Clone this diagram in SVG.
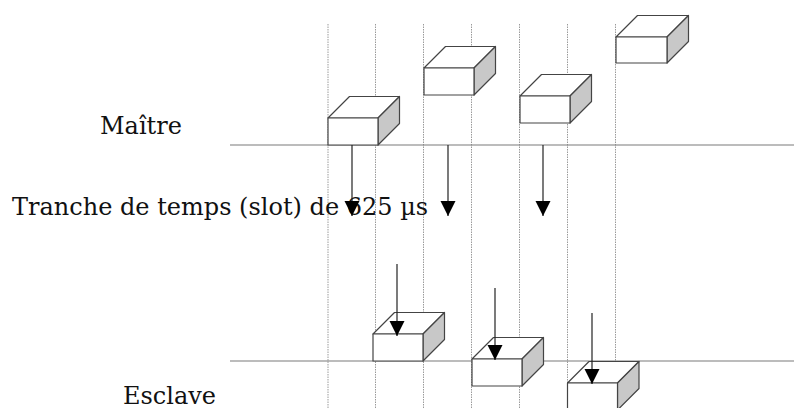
<svg xmlns="http://www.w3.org/2000/svg" width="794" height="408" viewBox="0 0 794 408">
<style>
.grid{stroke:#9a9a9a;stroke-width:1;stroke-dasharray:1.5 1;fill:none}
.axis{stroke:#7a7a7a;stroke-width:1.2;fill:none}
.face{fill:#ffffff;stroke:#444;stroke-width:1.2;stroke-linejoin:round}
.side{fill:#c8c8c8;stroke:#444;stroke-width:1.2;stroke-linejoin:round}
.lbl{font-family:"DejaVu Serif","Liberation Serif",serif;font-size:24px;fill:#111}
.arr{stroke:#222;stroke-width:1.2;fill:none;marker-end:url(#ah)}
</style>
<defs>
<marker id="ah" markerUnits="userSpaceOnUse" markerWidth="16" markerHeight="16" viewBox="0 0 16 16" refX="8" refY="15" orient="0">
<path d="M0.5,0 L15.5,0 L8,15 Z" fill="#000"/>
</marker>
</defs>
<rect width="794" height="408" fill="#fff"/>
<g id="grid">
<line class="grid" x1="328" y1="24" x2="328" y2="408"/>
<line class="grid" x1="375.5" y1="24" x2="375.5" y2="408"/>
<line class="grid" x1="423.5" y1="24" x2="423.5" y2="408"/>
<line class="grid" x1="471.5" y1="24" x2="471.5" y2="408"/>
<line class="grid" x1="519.5" y1="24" x2="519.5" y2="408"/>
<line class="grid" x1="567.5" y1="24" x2="567.5" y2="408"/>
<line class="grid" x1="615.5" y1="24" x2="615.5" y2="408"/>
</g>
<g id="lines">
<line class="axis" x1="230" y1="145" x2="794" y2="145"/>
<line class="axis" x1="230" y1="361" x2="794" y2="361"/>
</g>
<g id="labels">
<text class="lbl" x="100" y="134">Maître</text>
<text class="lbl" x="12" y="214.5">Tranche de temps (slot) de 625 µs</text>
<text class="lbl" x="123" y="404">Esclave</text>
</g>
<g id="master-slot-1">
<polygon class="face" points="328,118 349.5,96.5 399.5,96.5 378,118"/>
<polygon class="side" points="378,118 399.5,96.5 399.5,123.5 378,145"/>
<rect class="face" x="328" y="118" width="50" height="27"/>
</g>
<g id="master-slot-2">
<polygon class="face" points="424,68 445.5,46.5 495.5,46.5 474,68"/>
<polygon class="side" points="474,68 495.5,46.5 495.5,73.5 474,95"/>
<rect class="face" x="424" y="68" width="50" height="27"/>
</g>
<g id="master-slot-3">
<polygon class="face" points="520,96 541.5,74.5 591.5,74.5 570,96"/>
<polygon class="side" points="570,96 591.5,74.5 591.5,101.5 570,123"/>
<rect class="face" x="520" y="96" width="50" height="27"/>
</g>
<g id="master-slot-4">
<polygon class="face" points="616,37 637.5,15.5 688.5,15.5 667,37"/>
<polygon class="side" points="667,37 688.5,15.5 688.5,41.5 667,63"/>
<rect class="face" x="616" y="37" width="51" height="26"/>
</g>
<g id="slave-slot-1">
<polygon class="face" points="373,334 394.5,312.5 444.5,312.5 423,334"/>
<polygon class="side" points="423,334 444.5,312.5 444.5,339.5 423,361"/>
<rect class="face" x="373" y="334" width="50" height="27"/>
</g>
<g id="slave-slot-2">
<polygon class="face" points="472,359 493.5,337.5 543.5,337.5 522,359"/>
<polygon class="side" points="522,359 543.5,337.5 543.5,364.5 522,386"/>
<rect class="face" x="472" y="359" width="50" height="27"/>
</g>
<g id="slave-slot-3">
<polygon class="face" points="567.5,383 589,361.5 639,361.5 617.5,383"/>
<polygon class="side" points="617.5,383 639,361.5 639,388.5 617.5,410"/>
<rect class="face" x="567.5" y="383" width="50" height="27"/>
</g>
<g id="connectors">
<line class="arr" x1="352" y1="145" x2="352" y2="216"/>
<line class="arr" x1="448" y1="145" x2="448" y2="216"/>
<line class="arr" x1="543" y1="145" x2="543" y2="216"/>
<line class="arr" x1="397" y1="264" x2="397" y2="336"/>
<line class="arr" x1="495" y1="288" x2="495" y2="360"/>
<line class="arr" x1="592" y1="313" x2="592" y2="384"/>
</g>
</svg>
